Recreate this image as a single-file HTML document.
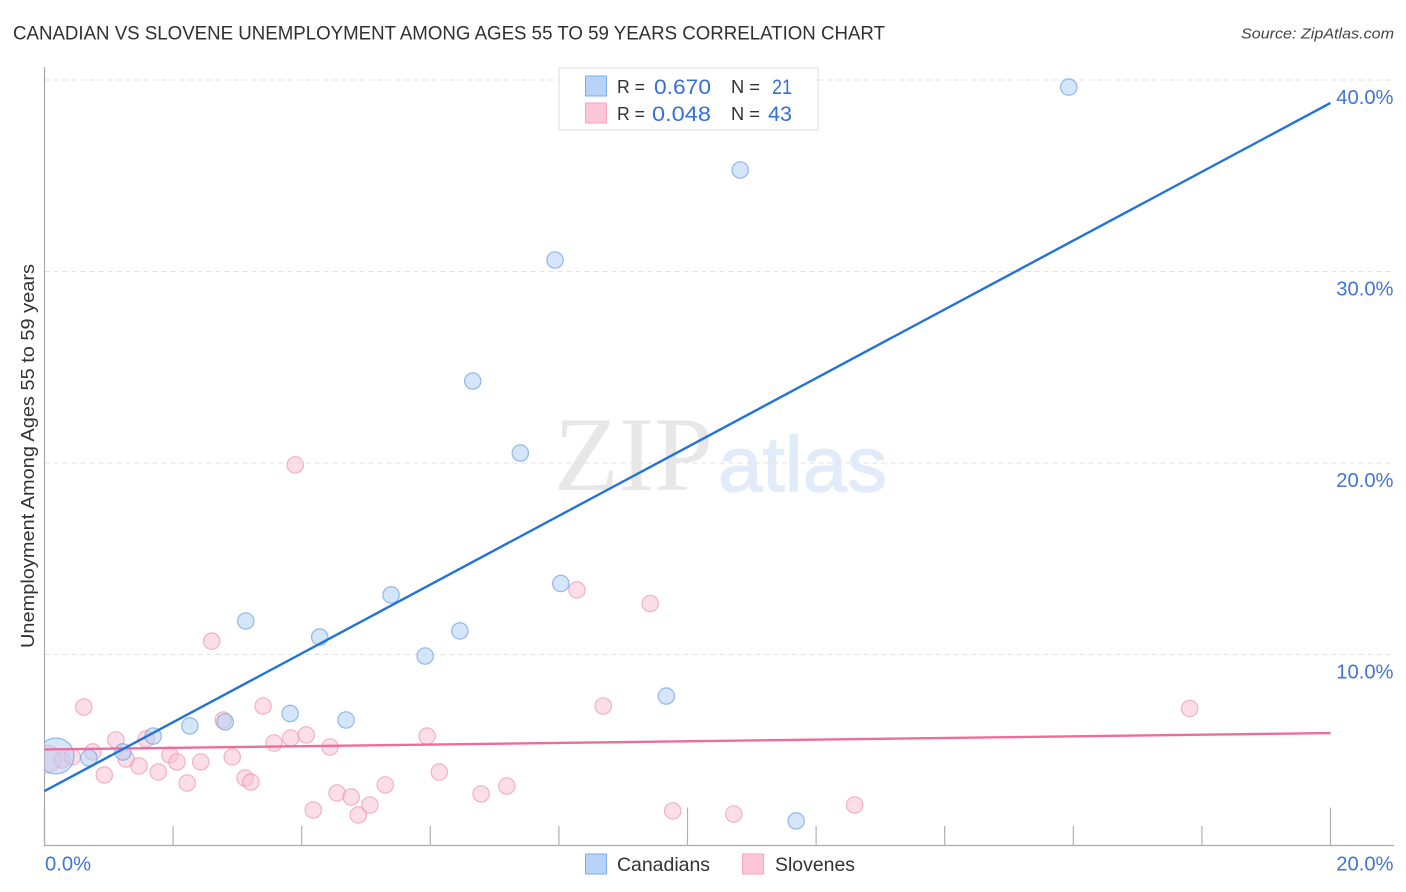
<!DOCTYPE html>
<html>
<head>
<meta charset="utf-8">
<title>Canadian vs Slovene Unemployment Correlation Chart</title>
<style>
html,body{margin:0;padding:0;background:#fff;width:1406px;height:892px;overflow:hidden}
svg{display:block}
text{font-family:"Liberation Sans",sans-serif}
</style>
</head>
<body>
<svg id="chart" xmlns="http://www.w3.org/2000/svg" width="1406" height="892" viewBox="0 0 1406 892">
  <defs><clipPath id="plot-clip"><rect x="44.5" y="60" width="1350" height="786"/></clipPath></defs>
  <rect x="0" y="0" width="1406" height="892" fill="#ffffff"/>
  <text x="13" y="39.5" font-size="19.5" fill="#303030" textLength="872" lengthAdjust="spacingAndGlyphs">CANADIAN VS SLOVENE UNEMPLOYMENT AMONG AGES 55 TO 59 YEARS CORRELATION CHART</text>
  <text x="1394" y="38.5" font-size="15" font-style="italic" fill="#444444" text-anchor="end" textLength="153" lengthAdjust="spacingAndGlyphs">Source: ZipAtlas.com</text>
  <g>
    <text x="554" y="490" style="font-family:'Liberation Serif',serif" font-size="106" fill="#e7e7e7" textLength="159" lengthAdjust="spacingAndGlyphs">ZIP</text>
    <text x="718" y="491" font-size="78" fill="#e1ebf9" stroke="#e1ebf9" stroke-width="1.2" textLength="169" lengthAdjust="spacingAndGlyphs">atlas</text>
  </g>
  <g id="grid"></g>
  <g id="axes"></g>
  <g id="points" clip-path="url(#plot-clip)"></g>
  <g id="trends"></g>
  <g id="labels"></g>
  <text transform="translate(34,456) rotate(-90)" font-size="18.5" fill="#333333" text-anchor="middle" textLength="384" lengthAdjust="spacingAndGlyphs">Unemployment Among Ages 55 to 59 years</text>

  <g>
    <rect x="559" y="68" width="259" height="62" fill="#ffffff" stroke="#dddddd" stroke-width="1"/>
    <rect x="585.5" y="76" width="21" height="20" fill="#b7d3f7" stroke="#7dade9" stroke-width="1"/>
    <rect x="585.5" y="103" width="21" height="20" fill="#fdc5d8" stroke="#f4a5bf" stroke-width="1"/>
    <text x="617" y="93" font-size="18" fill="#333333" textLength="28" lengthAdjust="spacingAndGlyphs">R =</text>
    <text x="654" y="94" font-size="21" fill="#3570d6" textLength="57" lengthAdjust="spacingAndGlyphs">0.670</text>
    <text x="731" y="93" font-size="18" fill="#333333" textLength="29" lengthAdjust="spacingAndGlyphs">N =</text>
    <text x="772" y="94" font-size="21" fill="#3570d6" textLength="20" lengthAdjust="spacingAndGlyphs">21</text>
    <text x="617" y="120" font-size="18" fill="#333333" textLength="28" lengthAdjust="spacingAndGlyphs">R =</text>
    <text x="652" y="121" font-size="21" fill="#3570d6" textLength="59" lengthAdjust="spacingAndGlyphs">0.048</text>
    <text x="731" y="120" font-size="18" fill="#333333" textLength="29" lengthAdjust="spacingAndGlyphs">N =</text>
    <text x="768" y="121" font-size="21" fill="#3570d6" textLength="24" lengthAdjust="spacingAndGlyphs">43</text>
  </g>

  <g>
    <rect x="585.5" y="854" width="21" height="20" fill="#b7d3f7" stroke="#7dade9" stroke-width="1"/>
    <text x="617" y="871" font-size="19.5" fill="#333333" textLength="93" lengthAdjust="spacingAndGlyphs">Canadians</text>
    <rect x="742.5" y="854" width="21" height="20" fill="#fdc5d8" stroke="#f4a5bf" stroke-width="1"/>
    <text x="775" y="871" font-size="19.5" fill="#333333" textLength="80" lengthAdjust="spacingAndGlyphs">Slovenes</text>
  </g>
</svg>
<script>
const yTickValues = [10, 20, 30, 40];
const yTickLabels = ["10.0%", "20.0%", "30.0%", "40.0%"];
const xTickValues = [0, 2, 4, 6, 8, 10, 12, 14, 16, 18, 20];
const xMajorTicks = [0, 10, 20];
const xEndValues = [0, 20];
const xEndLabels = ["0.0%", "20.0%"];

const canadianX = [0.18, 0.69, 1.22, 1.69, 2.26, 2.81, 3.13, 3.82, 4.28, 4.69, 5.39, 5.92, 6.46, 6.66, 7.40, 7.94, 8.03, 9.67, 10.82, 11.69, 15.93];
const canadianY = [4.70, 4.60, 4.91, 5.74, 6.27, 6.48, 11.75, 6.92, 10.91, 6.58, 13.11, 9.92, 11.23, 24.28, 20.52, 30.60, 13.71, 7.83, 35.30, 1.31, 39.63];
const canadianWeight = [4.8, 1, 1, 1, 1, 1, 1, 1, 1, 1, 1, 1, 1, 1, 1, 1, 1, 1, 1, 1, 1];

const sloveneX = [0.04, 0.27, 0.43, 0.61, 0.75, 0.93, 1.11, 1.27, 1.47, 1.58, 1.77, 1.95, 2.06, 2.22, 2.43, 2.60, 2.78, 2.92, 3.12, 3.21, 3.40, 3.57, 3.83, 3.90, 4.07, 4.18, 4.44, 4.55, 4.77, 4.88, 5.06, 5.30, 5.95, 6.14, 6.79, 7.19, 8.28, 8.69, 9.42, 9.77, 10.72, 12.60, 17.81];
const sloveneY = [4.54, 4.49, 4.65, 7.26, 4.91, 3.71, 5.54, 4.54, 4.18, 5.59, 3.86, 4.75, 4.39, 3.29, 4.39, 10.70, 6.58, 4.65, 3.55, 3.34, 7.31, 5.38, 5.64, 19.90, 5.80, 1.88, 5.17, 2.77, 2.56, 1.62, 2.14, 3.19, 5.74, 3.86, 2.72, 3.13, 13.37, 7.31, 12.66, 1.83, 1.67, 2.14, 7.18];
const sloveneWeight = [2.9, 1, 1, 1, 1, 1, 1, 1, 1, 1, 1, 1, 1, 1, 1, 1, 1, 1, 1, 1, 1, 1, 1, 1, 1, 1, 1, 1, 1, 1, 1, 1, 1, 1, 1, 1, 1, 1, 1, 1, 1, 1, 1];

const trendX = [0, 20];
const canadianTrendY = [2.87, 38.8];
const sloveneTrendY = [5.04, 5.90];

const NS = "http://www.w3.org/2000/svg";
function xScale(v) { return 44.5 + v * 64.3; }
function yScale(v) { return 846 - v * 19.15; }
function rScale(w) { return 8.2 * Math.sqrt(w); }
function make(tag, parent, attrs, text) {
  const el = document.createElementNS(NS, tag);
  for (const k in attrs) el.setAttribute(k, attrs[k]);
  if (text !== undefined) el.textContent = text;
  parent.appendChild(el);
  return el;
}
const gridG = document.getElementById("grid");
const axesG = document.getElementById("axes");
const pointsG = document.getElementById("points");
const trendsG = document.getElementById("trends");
const labelsG = document.getElementById("labels");

yTickValues.forEach(function (v, i) {
  const line = make("line", gridG, {x1: 44.5, x2: 1394, y1: yScale(v), y2: yScale(v), stroke: "#e2e2e2", "stroke-width": 1, "stroke-dasharray": "5 4"});
  
  
  const label = make("text", labelsG, {x: 1393.5, y: yScale(v) + 24, "font-size": 20.2, fill: "#4274d6", "text-anchor": "end"}, yTickLabels[i]);
  
  
});

const yAxis = make("line", axesG, {x1: 44.5, x2: 44.5, y1: 67, y2: 846, stroke: "#aaaaaa", "stroke-width": 1.2});


const xAxis = make("line", axesG, {x1: 44, x2: 1394, y1: 845.5, y2: 845.5, stroke: "#aaaaaa", "stroke-width": 1.2});


xTickValues.forEach(function (v) {
  const tall = xMajorTicks.indexOf(v) >= 0;
  const tick = make("line", axesG, {x1: xScale(v), x2: xScale(v), y1: tall ? 807.5 : 826, y2: 846, stroke: "#b0b0b0", "stroke-width": 1.2});
  
  
});
xEndValues.forEach(function (v, i) {
  const isLast = i === xEndValues.length - 1;
  const label = make("text", labelsG, {x: isLast ? 1393.5 : 45, y: 870.5, "font-size": 20.2, fill: "#4274d6", "text-anchor": isLast ? "end" : "start"}, xEndLabels[i]);
  
  
});

sloveneX.forEach(function (v, i) {
  const dot = make("circle", pointsG, {cx: xScale(v), cy: yScale(sloveneY[i]), r: rScale(sloveneWeight[i]), fill: "#f9bdd2", "fill-opacity": 0.5, stroke: "#ee8fae", "stroke-opacity": 0.65, "stroke-width": 1.2});
  
  
});
canadianX.forEach(function (v, i) {
  const dot = make("circle", pointsG, {cx: xScale(v), cy: yScale(canadianY[i]), r: rScale(canadianWeight[i]), fill: "#b3d0f5", "fill-opacity": 0.55, stroke: "#6a9fe2", "stroke-opacity": 0.7, "stroke-width": 1.2});
  
  
});

const sloveneLine = make("line", trendsG, {x1: xScale(trendX[0]), y1: yScale(sloveneTrendY[0]), x2: xScale(trendX[1]), y2: yScale(sloveneTrendY[1]), stroke: "#ee6c9c", "stroke-width": 2.4});


const canadianLine = make("line", trendsG, {x1: xScale(trendX[0]), y1: yScale(canadianTrendY[0]), x2: xScale(trendX[1]), y2: yScale(canadianTrendY[1]), stroke: "#2273d9", "stroke-width": 2.4});


</script>
</body>
</html>
